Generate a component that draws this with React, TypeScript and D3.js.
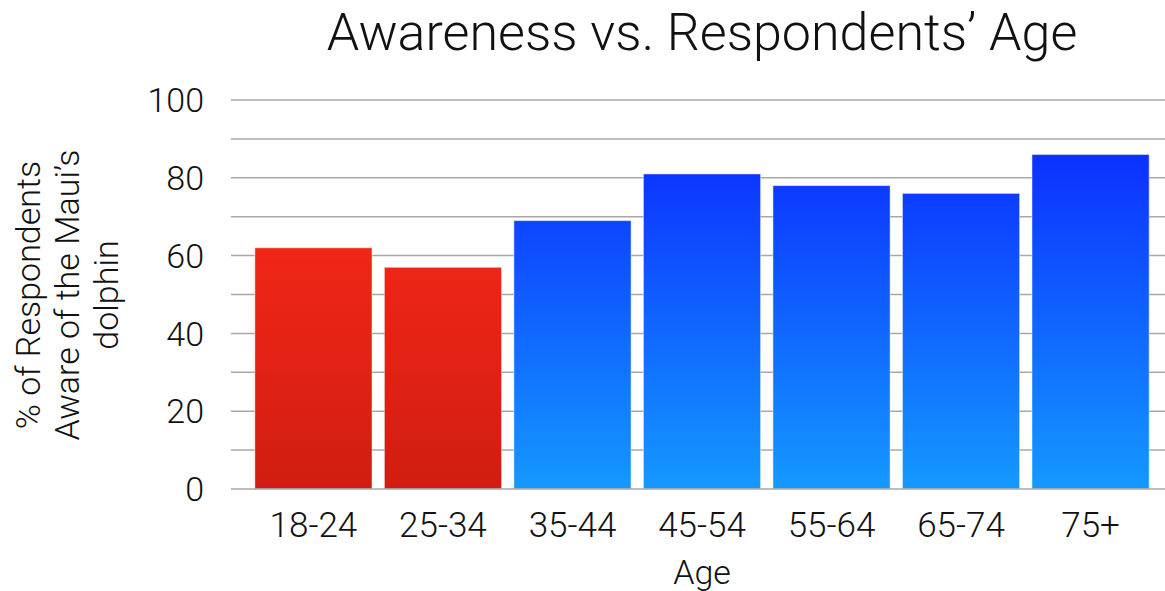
import React, { useEffect, useRef } from 'react';
import * as d3 from 'd3';

const ageGroups = ['18-24', '25-34', '35-44', '45-54', '55-64', '65-74', '75+'];
const awareness = [62, 57, 69, 81, 78, 76, 86];
const groupTone = ['red', 'red', 'blue', 'blue', 'blue', 'blue', 'blue'];
const yTicks = [0, 20, 40, 60, 80, 100];
const yTitleLines = ['% of Respondents', 'Aware of the Maui\u2019s', 'dolphin'];

const W = 1165;
const H = 591;
const FONT = 'Roboto, "Helvetica Neue", Arial, sans-serif';

const App: React.FC = () => {
  const svgRef = useRef<SVGSVGElement | null>(null);

  useEffect(() => {
    const svg = d3.select(svgRef.current);
    svg.selectAll('*').remove();

    const left = 231;
    const right = 1165;
    const top = 100;
    const bottom = 489;

    const x = d3.scaleBand<string>().domain(ageGroups).range([249, 1155]).paddingInner(0.095).paddingOuter(0.045);
    const y = d3.scaleLinear().domain([0, 100]).range([bottom, top]);

    const defs = svg.append('defs');
    const grads: Record<string, [string, string]> = {
      red: ['#ff2a18', '#d01d12'],
      blue: ['#0b2bff', '#1499ff'],
    };
    Object.entries(grads).forEach(([k, [c1, c2]]) => {
      const g = defs
        .append('linearGradient')
        .attr('id', `grad-${k}`)
        .attr('gradientUnits', 'userSpaceOnUse')
        .attr('x1', 0)
        .attr('x2', 0)
        .attr('y1', y(90))
        .attr('y2', bottom);
      g.append('stop').attr('offset', '0%').attr('stop-color', c1);
      g.append('stop').attr('offset', '100%').attr('stop-color', c2);
    });

    // grid lines, every 10
    svg
      .append('g')
      .selectAll('line')
      .data(d3.range(10, 101, 10))
      .enter()
      .append('line')
      .attr('x1', left)
      .attr('x2', right)
      .attr('y1', (d) => y(d))
      .attr('y2', (d) => y(d))
      .attr('stroke', '#a8a8a8')
      .attr('stroke-width', 1.5);

    svg
      .append('g')
      .selectAll('rect')
      .data(awareness)
      .enter()
      .append('rect')
      .attr('x', (_, i) => x(ageGroups[i]) || 0)
      .attr('y', (d) => y(d))
      .attr('width', x.bandwidth())
      .attr('height', (d) => bottom - y(d))
      .attr('fill', (_, i) => `url(#grad-${groupTone[i]})`)
      .attr('stroke', 'rgba(255,255,255,0.5)')
      .attr('stroke-width', 1);

    // baseline
    svg
      .append('line')
      .attr('x1', left)
      .attr('x2', right)
      .attr('y1', bottom)
      .attr('y2', bottom)
      .attr('stroke', '#a8a8a8')
      .attr('stroke-width', 1.5);

    const txt = svg.append('g').attr('font-family', FONT).attr('font-weight', 300).attr('fill', '#111');

    txt
      .selectAll('text.ytick')
      .data(yTicks)
      .enter()
      .append('text')
      .attr('x', 204)
      .attr('y', (d) => y(d))
      .attr('dy', '0.36em')
      .attr('text-anchor', 'end')
      .attr('font-size', 34)
      .text((d) => d);

    txt
      .selectAll('text.xtick')
      .data(ageGroups)
      .enter()
      .append('text')
      .attr('x', (d) => (x(d) || 0) + x.bandwidth() / 2)
      .attr('y', 537)
      .attr('text-anchor', 'middle')
      .attr('font-size', 35)
      .text((d) => d);

    txt
      .append('text')
      .attr('x', 702)
      .attr('y', 584)
      .attr('text-anchor', 'middle')
      .attr('font-size', 34)
      .text('Age');

    txt
      .append('text')
      .attr('x', 702)
      .attr('y', 50)
      .attr('text-anchor', 'middle')
      .attr('font-size', 52)
      .text('Awareness vs. Respondents\u2019 Age');

    const yt = txt.append('text').attr('transform', 'translate(0,295) rotate(-90)').attr('text-anchor', 'middle').attr('font-size', 34);
    yTitleLines.forEach((line, i) => {
      yt.append('tspan')
        .attr('x', 0)
        .attr('y', 40 + i * 39)
        .text(line);
    });
  }, []);

  return (
    <svg
      ref={svgRef}
      width={W}
      height={H}
      style={{ position: 'absolute', left: 0, top: 0, background: '#fff' }}
    />
  );
};

export default App;
